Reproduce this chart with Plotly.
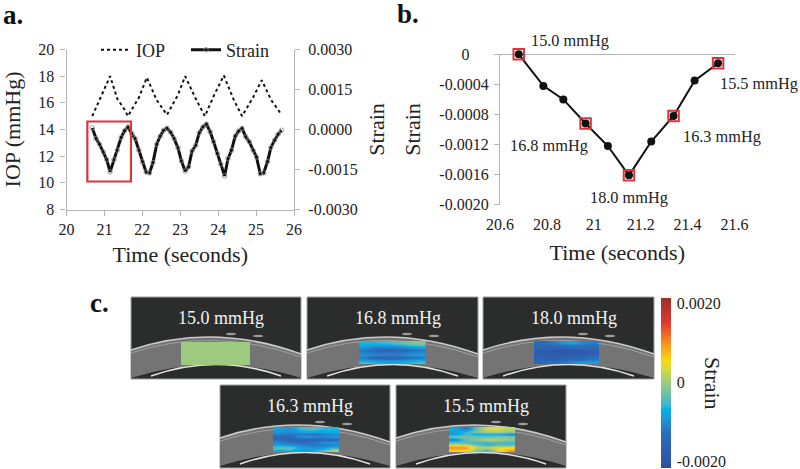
import plotly.graph_objects as go

W, H = 800, 469
SERIF = "Liberation Serif"

# --- panel a data
strain_time = [20.68, 20.78, 20.87, 20.97, 21.06, 21.15, 21.25, 21.34, 21.44, 21.53, 21.62, 21.72, 21.81, 21.91,
               22.00, 22.10, 22.19, 22.28, 22.38, 22.47, 22.56, 22.65, 22.75, 22.84, 22.94, 23.03, 23.13, 23.22,
               23.31, 23.41, 23.50, 23.60, 23.69, 23.79, 23.88, 23.98, 24.07, 24.17, 24.26, 24.35, 24.45, 24.54,
               24.63, 24.73, 24.82, 24.92, 25.01, 25.11, 25.20, 25.30, 25.39, 25.49, 25.58, 25.67]
strain_values = [0.00006, -0.00034, -0.00055, -0.00084, -0.00113, -0.00159, -0.00113, -0.00078, -0.00030, -0.00005,
                 0.00009, -0.00015, -0.00034, -0.00078, -0.00121, -0.00160, -0.00163, -0.00124, -0.00055, -0.00025,
                 -0.00003, 0.00005, -0.00011, -0.00034, -0.00069, -0.00118, -0.00156, -0.00140, -0.00081, -0.00059,
                 -0.00013, 0.00010, 0.00020, -0.00009, -0.00046, -0.00090, -0.00130, -0.00174, -0.00109, -0.00078,
                 -0.00025, -0.00006, 0.00004, -0.00028, -0.00046, -0.00078, -0.00103, -0.00166, -0.00163, -0.00121,
                 -0.00068, -0.00040, -0.00018, -0.00003]
iop_time = [20.68, 20.97, 21.15, 21.34, 21.53, 21.62, 21.91, 22.12, 22.38, 22.65, 22.94, 23.13, 23.41, 23.65,
            23.88, 24.15, 24.40, 24.63, 24.92, 25.15, 25.40, 25.65]
iop_values = [15.0, 16.8, 18.0, 16.3, 15.5, 15.0, 16.4, 17.9, 16.2, 15.1, 16.6, 18.0, 16.3, 15.0,
              16.5, 18.05, 16.3, 15.0, 16.4, 17.7, 16.2, 15.2]

# --- panel b data
b_time = [20.68, 20.785, 20.87, 20.965, 21.06, 21.15, 21.245, 21.34, 21.43, 21.53]
b_strain = [0.0, -0.00042, -0.00060, -0.00092, -0.00122, -0.00161, -0.00116, -0.00082, -0.00035, -0.00012]
b_marked_time = [20.68, 20.965, 21.15, 21.34, 21.53]
b_marked_strain = [0.0, -0.00092, -0.00161, -0.00082, -0.00012]
b_labels = ["15.0 mmHg", "16.8 mmHg", "18.0 mmHg", "16.3 mmHg", "15.5 mmHg"]

# --- panel c strain patches (rows top to bottom)
patch_150 = [[0.0] * 6 for _ in range(9)]
patch_168 = [[-0.0006, -0.0006, -0.0005, -0.0004, -0.0002, -0.0001],
             [-0.0007, -0.0008, -0.0008, -0.0007, -0.0005, -0.0004],
             [-0.0009, -0.0012, -0.0012, -0.0011, -0.0010, -0.0008],
             [-0.0012, -0.0015, -0.0016, -0.0016, -0.0014, -0.0012],
             [-0.0011, -0.0012, -0.0012, -0.0012, -0.0011, -0.0010],
             [-0.0009, -0.0010, -0.0011, -0.0011, -0.0009, -0.0008],
             [-0.0012, -0.0015, -0.0016, -0.0015, -0.0014, -0.0012],
             [-0.0008, -0.0009, -0.0010, -0.0010, -0.0008, -0.0007],
             [-0.0005, -0.0006, -0.0007, -0.0007, -0.0006, -0.0005]]
patch_180 = [[-0.0014, -0.0012, -0.0009, -0.0007, -0.0010, -0.0011],
             [-0.0014, -0.0014, -0.0013, -0.0012, -0.0013, -0.0013],
             [-0.0015, -0.0015, -0.0015, -0.0014, -0.0014, -0.0014],
             [-0.0017, -0.0018, -0.0018, -0.0018, -0.0017, -0.0016],
             [-0.0017, -0.0018, -0.0019, -0.0018, -0.0018, -0.0017],
             [-0.0016, -0.0016, -0.0016, -0.0016, -0.0015, -0.0014],
             [-0.0016, -0.0017, -0.0017, -0.0016, -0.0015, -0.0013],
             [-0.0015, -0.0015, -0.0014, -0.0013, -0.0012, -0.0011],
             [-0.0014, -0.0013, -0.0012, -0.0010, -0.0008, -0.0008]]
patch_163 = [[-0.0008, -0.0009, -0.0005, -0.0004, -0.0006, -0.0006],
             [-0.0009, -0.0010, -0.0008, -0.0007, -0.0007, -0.0007],
             [-0.0011, -0.0012, -0.0012, -0.0013, -0.0012, -0.0010],
             [-0.0015, -0.0014, -0.0009, -0.0009, -0.0010, -0.0009],
             [-0.0013, -0.0015, -0.0016, -0.0015, -0.0015, -0.0014],
             [-0.0010, -0.0012, -0.0013, -0.0012, -0.0009, -0.0009],
             [-0.0008, -0.0009, -0.0010, -0.0012, -0.0012, -0.0011],
             [-0.0004, -0.0003, -0.0008, -0.0009, -0.0009, -0.0006],
             [-0.0007, -0.0007, -0.0008, -0.0008, -0.0004, 0.0002]]
patch_155 = [[-0.0007, -0.0012, -0.0003, 0.0004, 0.0004, 0.0002],
             [-0.0008, -0.0006, -0.0002, 0.0001, 0.0001, 0.0000],
             [-0.0009, -0.0005, -0.0007, -0.0007, -0.0008, -0.0011],
             [-0.0003, -0.0002, -0.0003, -0.0004, -0.0002, -0.0002],
             [-0.0010, -0.0004, -0.0001, 0.0002, 0.0001, -0.0001],
             [-0.0003, -0.0004, -0.0006, -0.0006, -0.0005, -0.0006],
             [0.0005, 0.0004, -0.0002, -0.0006, -0.0003, -0.0003],
             [0.0010, 0.0010, 0.0002, 0.0002, 0.0005, 0.0005],
             [0.0006, 0.0005, -0.0002, -0.0006, 0.0004, 0.0010]]
patches = [patch_150, patch_168, patch_180, patch_163, patch_155]
panel_titles = ["15.0 mmHg", "16.8 mmHg", "18.0 mmHg", "16.3 mmHg", "15.5 mmHg"]
colorbar_ticks = [-0.0020, 0, 0.0020]
colorbar_ticktext = ["-0.0020", "0", "0.0020"]

STRAIN_SCALE = [[0.0, "#2e4d9e"], [0.2, "#2c6dbd"], [0.30, "#1a9bdc"], [0.345, "#00b2ea"], [0.37, "#3fb6d2"],
                [0.5, "#9ccb80"], [0.57, "#cdd64c"], [0.63, "#fbdb14"], [0.73, "#f6921e"], [0.86, "#e0362f"],
                [1.0, "#9c2f2b"]]

# --- layout helpers (pixels to paper)
def px(x): return x / W
def py(y): return 1 - y / H

A_L, A_R, A_T, A_B = 66.5, 294, 49.5, 209.5
B_L, B_R, B_T, B_B = 500, 734.5, 54.3, 204.7
GREY = "#b5b5b5"
RED = "#d9363c"
TXT = "#222222"

# (panel x0, y0, x1, y1), (patch x0, y0, x1, y1)
panels = [(131, 297, 301, 379), (307, 297, 478, 379), (483, 297, 654, 379),
          (220, 385, 390, 468), (396, 385, 566, 468)]
patch_boxes = [(181, 342, 250, 365), (359, 341, 425.5, 364), (534, 341, 599, 364),
               (273, 427, 339, 452), (449, 427, 515, 452)]

fig = go.Figure()

# panel a
fig.add_trace(go.Scatter(x=iop_time, y=iop_values, name="IOP", mode="lines",
                         line=dict(color="#111111", width=2, dash="dot"), xaxis="x", yaxis="y"))
fig.add_trace(go.Scatter(x=strain_time, y=strain_values, name="Strain", mode="lines+markers",
                         line=dict(color="#111111", width=3),
                         marker=dict(size=4.5, color="rgba(255,255,255,0)", line=dict(color="#8a8a8a", width=0.8)),
                         xaxis="x", yaxis="y2"))
# panel b
fig.add_trace(go.Scatter(x=b_time, y=b_strain, mode="lines+markers", showlegend=False, cliponaxis=False,
                         line=dict(color="#111111", width=2),
                         marker=dict(size=8, color="#111111"), xaxis="x2", yaxis="y3"))
fig.add_trace(go.Scatter(x=b_marked_time, y=b_marked_strain, mode="markers", showlegend=False, cliponaxis=False,
                         marker=dict(size=10.5, symbol="square-open", color=RED, line=dict(color=RED, width=2)),
                         xaxis="x2", yaxis="y3"))

# panel c patches
layout_axes = {}
for i, (z, box) in enumerate(zip(patches, patch_boxes)):
    n = i + 3
    tr = dict(z=z, colorscale=STRAIN_SCALE, zmin=-0.00215, zmax=0.00215, zsmooth="best",
              xaxis=f"x{n}", yaxis=f"y{n + 1}", showscale=False)
    if i == 0:
        tr.update(showscale=True, colorbar=dict(
            x=px(660.7), xanchor="left", y=py(297.7), yanchor="top",
            thickness=10, thicknessmode="pixels", len=170, lenmode="pixels",
            outlinewidth=0, ticks="outside", ticklen=3, tickcolor="rgba(0,0,0,0)",
            tickvals=colorbar_ticks, ticktext=colorbar_ticktext, ticklabeloverflow="allow",
            tickfont=dict(family=SERIF, size=16, color=TXT), xpad=0, ypad=0))
    fig.add_trace(go.Heatmap(**tr))
    layout_axes[f"xaxis{n}"] = dict(domain=[px(box[0]), px(box[2])], anchor=f"y{n + 1}", visible=False)
    layout_axes[f"yaxis{n + 1}"] = dict(domain=[py(box[3]), py(box[1])], anchor=f"x{n}", visible=False,
                                       autorange="reversed")

# panel c backgrounds as paper shapes
shapes = []
def pt(x, y): return f"{px(x):.5f},{py(y):.5f}"
for (x0, y0, x1, y1) in panels:
    w = x1 - x0
    def P(rx, ry): return pt(x0 + rx * w / 170, y0 + ry)
    shapes.append(dict(type="rect", xref="paper", yref="paper", x0=px(x0), x1=px(x1), y0=py(y1), y1=py(y0),
                       fillcolor="#2b2d2c", line=dict(width=1, color="#a0a0a0"), layer="below"))
    band = f"M {P(0,53)} Q {P(82,25)} {P(170,57)} L {P(170,81)} Q {P(85,54)} {P(0,81)} Z"
    shapes.append(dict(type="path", xref="paper", yref="paper", path=band, fillcolor="#747474",
                       line=dict(width=0), layer="below"))
    for top_path, col, wd in [(f"M {P(0,53)} Q {P(82,25)} {P(170,57)}", "#c9c9c9", 1.6),
                              (f"M {P(0,56)} Q {P(82,29)} {P(170,60)}", "#9e9e9e", 1.0),
                              (f"M {P(20,79)} Q {P(85,56)} {P(150,79)}", "#e2e2e2", 1.6)]:
        shapes.append(dict(type="path", xref="paper", yref="paper", path=top_path,
                           line=dict(width=wd, color=col), layer="below"))
    for rx, ry in [(100, 37), (127, 39)]:
        shapes.append(dict(type="circle", xref="paper", yref="paper",
                           x0=px(x0 + rx - 5), x1=px(x0 + rx + 5), y0=py(y0 + ry + 1.2), y1=py(y0 + ry - 1.2),
                           fillcolor="#9a9a9a", line=dict(width=0), layer="below"))

# red box of panel a
shapes.append(dict(type="rect", xref="x", yref="y", x0=20.55, x1=21.70, y0=10.1, y1=14.6,
                   line=dict(color=RED, width=2.2), layer="above"))

# annotations
ann = []
def label(x, y, text, size=16.3, color=TXT, bold=False, angle=0):
    ann.append(dict(x=px(x), y=py(y), xref="paper", yref="paper", text=f"<b>{text}</b>" if bold else text,
                    showarrow=False, xanchor="center", yanchor="middle", textangle=angle,
                    font=dict(family=SERIF, size=size, color=color)))
label(13, 15, "a.", 27, "#111111", True)
label(408, 14, "b.", 27, "#111111", True)
label(99, 303, "c.", 27, "#111111", True)
label(713, 383, "Strain", 22, TXT, False, 90)
for (x, y), t in zip([(570, 41), (549, 145), (629, 197), (722, 136), (759, 83)], b_labels):
    label(x, y, t)
for (x0, y0, x1, y1), t in zip(panels, panel_titles):
    label((x0 + x1) / 2 + 5, y0 + 21, t, 18, "#f2f2f2")

axis_font = dict(family=SERIF, size=16, color=TXT)
title_font = dict(family=SERIF, size=22, color=TXT)

fig.update_layout(
    width=W, height=H, margin=dict(l=0, r=0, t=0, b=0, autoexpand=False), autosize=False,
    paper_bgcolor="white", plot_bgcolor="rgba(0,0,0,0)", font=dict(family=SERIF),
    shapes=shapes, annotations=ann,
    legend=dict(orientation="h", x=px(96), y=py(50), xanchor="left", yanchor="middle",
                font=dict(family=SERIF, size=18, color=TXT), bgcolor="rgba(0,0,0,0)",
                itemwidth=30, entrywidth=45, entrywidthmode="pixels", traceorder="normal",
                itemclick=False),
    xaxis=dict(domain=[px(A_L), px(A_R)], range=[20, 26], tickvals=[20, 21, 22, 23, 24, 25, 26],
               anchor="y", showgrid=False, zeroline=False, showline=True, linecolor=GREY, linewidth=1.2,
               ticks="outside", ticklen=5, tickcolor=GREY, tickfont=axis_font,
               title=dict(text="Time (seconds)", font=title_font, standoff=9)),
    yaxis=dict(domain=[py(A_B), py(A_T)], range=[8, 20], tickvals=[8, 10, 12, 14, 16, 18, 20],
               anchor="x", showgrid=False, zeroline=False, showline=True, linecolor=GREY, linewidth=1.2,
               ticks="outside", ticklen=5, tickcolor=GREY, tickfont=axis_font, ticklabelstandoff=3,
               title=dict(text="IOP (mmHg)", font=title_font, standoff=11)),
    yaxis2=dict(domain=[py(A_B), py(A_T)], range=[-0.003, 0.003], overlaying="y", side="right", anchor="x",
                tickvals=[-0.003, -0.0015, 0, 0.0015, 0.003],
                ticktext=["-0.0030", "-0.0015", "0.0000", "0.0015", "0.0030"],
                showgrid=False, zeroline=False, showline=True, linecolor=GREY, linewidth=1.2,
                ticks="outside", ticklen=5, tickcolor=GREY, tickfont=axis_font, ticklabelstandoff=5,
                title=dict(text="Strain", font=title_font, standoff=11)),
    xaxis2=dict(domain=[px(B_L), px(B_R)], range=[20.6, 21.6], tickvals=[20.6, 20.8, 21, 21.2, 21.4, 21.6],
                ticktext=["20.6", "20.8", "21", "21.2", "21.4", "21.6"], anchor="y3",
                showgrid=False, zeroline=False, showline=False, ticks="", ticklen=0, tickfont=axis_font,
                ticklabelstandoff=8,
                title=dict(text="Time (seconds)", font=title_font, standoff=12)),
    yaxis3=dict(domain=[py(B_B), py(B_T)], range=[-0.0020, 0], tickvals=[-0.002, -0.0016, -0.0012, -0.0008, -0.0004, 0],
                ticktext=["-0.0020", "-0.0016", "-0.0012", "-0.0008", "-0.0004", "0\u2003\u2009"], anchor="x2",
                showgrid=False, zeroline=True, zerolinecolor=GREY, zerolinewidth=1.2,
                showline=True, linecolor=GREY, linewidth=1.2,
                ticks="outside", ticklen=5, tickcolor=GREY, tickfont=axis_font, ticklabelstandoff=2,
                title=dict(text="Strain", font=title_font, standoff=12)),
    **layout_axes,
)

fig.write_html("out.html", config={"displayModeBar": False}, post_script="document.body.style.margin='0';")
